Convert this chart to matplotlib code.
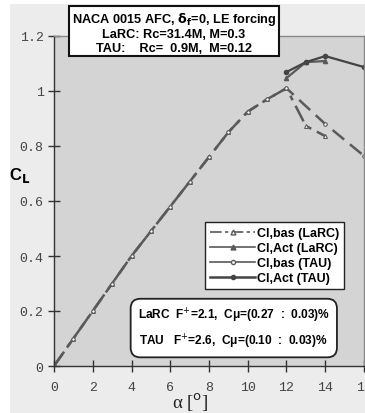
import matplotlib
matplotlib.use('Agg')
import matplotlib.pyplot as plt
from matplotlib.patches import Rectangle
from matplotlib.lines import Line2D

# lift coefficient vs angle of attack
alpha_lin = [0, 1, 2, 3, 4, 5, 6, 7, 8, 9, 10, 11, 12]
cl_lin = [0.0, 0.1, 0.2, 0.3, 0.4, 0.49, 0.58, 0.67, 0.76, 0.85, 0.925, 0.97, 1.01]

alpha_bas_larc = alpha_lin + [13, 14]
cl_bas_larc = cl_lin + [0.873, 0.836]

alpha_act_larc = [12, 13, 14]
cl_act_larc = [1.047, 1.105, 1.109]

alpha_bas_tau = alpha_lin + [14, 16]
cl_bas_tau = cl_lin + [0.88, 0.764]

alpha_act_tau = [12, 13, 14, 16]
cl_act_tau = [1.069, 1.105, 1.127, 1.087]

xticks = [0, 2, 4, 6, 8, 10, 12, 14, 16]
yticks = [0, 0.2, 0.4, 0.6, 0.8, 1.0, 1.2]
ytick_labels = ['0', '0.2', '0.4', '0.6', '0.8', '1', '1.2']

line_col = '#5a5a5a'

fig = plt.figure(figsize=(3.65, 4.14), dpi=100, facecolor='white')
fig.patches.append(Rectangle((10 / 365, 0), 1, 1 - 5 / 414, transform=fig.transFigure,
                             facecolor='#ececec', edgecolor='none', zorder=-10))

ax = fig.add_axes([54 / 365, 1 - 367 / 414, 310 / 365, 330 / 414])
ax.set_facecolor('#d4d4d4')

ax.plot(alpha_bas_larc, cl_bas_larc, color=line_col, lw=1.8, dashes=(7, 2.5, 2, 2.5),
        marker='^', ms=2.8, mfc='white', mec=line_col, mew=0.8, label='Cl,bas (LaRC)')
ax.plot(alpha_act_larc, cl_act_larc, color=line_col, lw=1.6,
        marker='^', ms=3, mfc=line_col, mec=line_col, label='Cl,Act (LaRC)')
ax.plot(alpha_bas_tau, cl_bas_tau, color=line_col, lw=1.8, dashes=(6, 3),
        marker='o', ms=2.5, mfc='white', mec=line_col, mew=0.8, label='Cl,bas (TAU)')
ax.plot(alpha_act_tau, cl_act_tau, color='#444444', lw=1.6,
        marker='o', ms=3, mfc='#444444', mec='#444444', label='Cl,Act (TAU)')

ax.set_xlim(0, 16)
ax.set_ylim(0, 1.2)
ax.set_xticks(xticks)
ax.set_yticks(yticks)
ax.set_yticklabels(ytick_labels)
for lab in ax.get_xticklabels() + ax.get_yticklabels():
    lab.set_family('Liberation Mono')
    lab.set_fontsize(9.5)
    lab.set_color('#444444')
ax.tick_params(direction='inout', length=9, width=1, color='#333333', pad=6)
ax.tick_params(axis='y', pad=3)
for s in ['left', 'bottom']:
    ax.spines[s].set_color('#333333')
    ax.spines[s].set_linewidth(1)
for s in ['top', 'right']:
    ax.spines[s].set_color('#888888')
    ax.spines[s].set_linewidth(1)

# legend with line+marker handles
handles = [
    Line2D([], [], color=line_col, lw=1.2, dashes=(7, 2, 2, 2), marker='^', ms=3.5, mfc='white'),
    Line2D([], [], color=line_col, lw=1.2, marker='^', ms=3.5, mfc=line_col),
    Line2D([], [], color=line_col, lw=1.2, marker='o', ms=3, mfc='white'),
    Line2D([], [], color='#444444', lw=1.8, marker='o', ms=3, mfc='#444444'),
]
labels = ['Cl,bas (LaRC)', 'Cl,Act (LaRC)', 'Cl,bas (TAU)', 'Cl,Act (TAU)']
leg = ax.legend(handles, labels, loc='upper right', bbox_to_anchor=(0.935, 0.436),
                borderaxespad=0, fancybox=False, framealpha=1, edgecolor='#222222',
                prop={'family': 'Liberation Sans', 'weight': 'bold', 'size': 9},
                handlelength=3.6, handletextpad=0.1, labelspacing=0.25,
                borderpad=0.4)
leg.get_frame().set_linewidth(1)

# forcing parameters box
ax.text(0.58, 0.115,
        'LaRC  F$^{+}$=2.1,  C\u03bc=(0.27  :  0.03)%\n\nTAU   F$^{+}$=2.6,  C\u03bc=(0.10  :  0.03)%',
        transform=ax.transAxes, ha='center', va='center', fontsize=8.6,
        family='Liberation Sans', weight='bold', linespacing=0.8,
        bbox=dict(boxstyle='round,pad=0.6,rounding_size=0.8', facecolor='white',
                  edgecolor='#222222', lw=1.3))

# title box
fig.text(0.476, 1 - 33 / 414,
         'NACA 0015 AFC, $\\mathbf{\\delta_f}$=0, LE forcing\nLaRC: Rc=31.4M, M=0.3\nTAU:    Rc=  0.9M,  M=0.12',
         ha='center', va='center', fontsize=9.2, family='Liberation Sans', weight='bold',
         linespacing=1.15,
         bbox=dict(boxstyle='square,pad=0.2', facecolor='white', edgecolor='#111111', lw=1.5))

fig.text(20 / 365, 1 - 176 / 414, 'C$_\\mathbf{L}$', fontsize=12, weight='bold',
         family='Liberation Sans', ha='center', va='center')
fig.text(190 / 365, 1 - 403 / 414, '\u03b1 [$^{\\mathrm{o}}$]', fontsize=13.5,
         family='Liberation Serif', ha='center', va='center', color='#222222')

fig.savefig('out.png', dpi=100, facecolor=fig.get_facecolor())
